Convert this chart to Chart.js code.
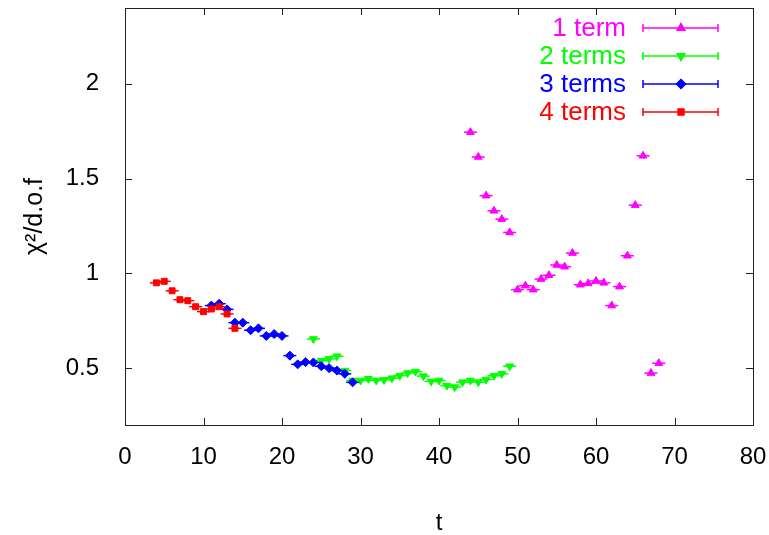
<!DOCTYPE html>
<html>
<head>
<meta charset="utf-8">
<script src="https://cdn.jsdelivr.net/npm/chart.js@4.4.1/dist/chart.umd.min.js"></script>
<style>
  html, body { margin: 0; padding: 0; background: #fff; }
  #wrap { width: 769px; height: 535px; }
</style>
</head>
<body>
<div id="wrap"><canvas id="chart" width="769" height="535"></canvas></div>
<script>
// データ (t, χ²/d.o.f)
const t1 = [44, 45, 46, 47, 48, 49, 50, 51, 52, 53, 54, 55, 56, 57, 58, 59, 60, 61, 62, 63, 64, 65, 66, 67, 68];
const chi1 = [1.745, 1.614, 1.41, 1.33, 1.286, 1.216, 0.914, 0.935, 0.914, 0.97, 0.99, 1.044, 1.035, 1.107,
  0.94, 0.947, 0.96, 0.95, 0.83, 0.93, 1.093, 1.36, 1.62, 0.474, 0.526];

const t2 = [24, 25, 26, 27, 28, 29, 30, 31, 32, 33, 34, 35, 36, 37, 38, 39, 40, 41, 42, 43, 44, 45, 46, 47, 48, 49];
const chi2 = [0.654, 0.54, 0.549, 0.563, 0.487, 0.435, 0.435, 0.444, 0.435, 0.438, 0.447, 0.46, 0.474, 0.482,
  0.458, 0.43, 0.435, 0.408, 0.40, 0.426, 0.435, 0.426, 0.44, 0.46, 0.47, 0.51];

const t3 = [11, 12, 13, 14, 15, 16, 17, 18, 19, 20, 21, 22, 23, 24, 25, 26, 27, 28, 29];
const chi3 = [0.83, 0.84, 0.81, 0.74, 0.74, 0.70, 0.71, 0.67, 0.68, 0.67, 0.566, 0.52, 0.532, 0.53, 0.51,
  0.50, 0.487, 0.47, 0.425];

const t4 = [4, 5, 6, 7, 8, 9, 10, 11, 12, 13, 14];
const chi4 = [0.95, 0.958, 0.908, 0.861, 0.856, 0.824, 0.798, 0.812, 0.824, 0.786, 0.71];

const xTicks = [0, 10, 20, 30, 40, 50, 60, 70, 80];
const yTicks = [0.5, 1, 1.5, 2];

const FONT = "'Liberation Sans', Arial, sans-serif";

// 系列定義
const seriesList = [
  { label: "1 term",  t: t1, v: chi1, color: "#ff00ff", style: "triangle", rot: 0,   r: 4.5, order: 4 },
  { label: "2 terms", t: t2, v: chi2, color: "#00ff00", style: "triangle", rot: 180, r: 4.5, order: 3 },
  { label: "3 terms", t: t3, v: chi3, color: "#0000ff", style: "rectRot",  rot: 0,   r: 4.5, order: 2 },
  { label: "4 terms", t: t4, v: chi4, color: "#ff0000", style: "rect",     rot: 0,   r: 4.2, order: 1 }
];

const toPoints = (ts, vs) => ts.map((t, i) => ({ x: t, y: vs[i] }));

const datasets = [];
for (const s of seriesList) {
  // マーカー
  datasets.push({
    label: s.label,
    data: toPoints(s.t, s.v),
    pointStyle: s.style,
    rotation: s.rot,
    pointRadius: s.r,
    backgroundColor: s.color,
    borderColor: s.color,
    borderWidth: 1,
    order: s.order
  });
  // 横方向エラーバー
  datasets.push({
    label: s.label + " err",
    data: toPoints(s.t, s.v),
    pointStyle: "line",
    pointRadius: 6.5,
    borderColor: s.color,
    borderWidth: 1.5,
    order: s.order
  });
}

// 枠と内向きの目盛り
const framePlugin = {
  id: "frame",
  afterDraw(chart) {
    const { ctx, chartArea: a, scales } = chart;
    ctx.save();
    ctx.strokeStyle = "#222";
    ctx.lineWidth = 1;
    ctx.strokeRect(a.left + 0.5, a.top + 0.5, a.right - a.left, a.bottom - a.top);
    ctx.beginPath();
    const len = 7;
    for (const v of xTicks) {
      const px = Math.round(scales.x.getPixelForValue(v)) + 0.5;
      ctx.moveTo(px, a.bottom); ctx.lineTo(px, a.bottom - len);
      ctx.moveTo(px, a.top); ctx.lineTo(px, a.top + len);
    }
    for (const v of yTicks) {
      const py = Math.round(scales.y.getPixelForValue(v)) + 0.5;
      ctx.moveTo(a.left, py); ctx.lineTo(a.left + len, py);
      ctx.moveTo(a.right, py); ctx.lineTo(a.right - len, py);
    }
    ctx.stroke();
    ctx.restore();
  }
};

// gnuplot 風の凡例
const legendPlugin = {
  id: "gpLegend",
  afterDraw(chart) {
    const { ctx } = chart;
    const textRight = 626, x0 = 643, x1 = 718, xm = 681;
    ctx.save();
    ctx.font = "26px " + FONT;
    ctx.textAlign = "right";
    ctx.textBaseline = "middle";
    seriesList.forEach((s, i) => {
      const y = 28 + i * 28;
      ctx.fillStyle = s.color;
      ctx.fillText(s.label, textRight, y + 1);
      ctx.strokeStyle = s.color;
      ctx.lineWidth = 1.5;
      ctx.beginPath();
      ctx.moveTo(x0, y); ctx.lineTo(x1, y);
      ctx.moveTo(x0, y - 4); ctx.lineTo(x0, y + 4);
      ctx.moveTo(x1, y - 4); ctx.lineTo(x1, y + 4);
      ctx.stroke();
      Chart.helpers.drawPoint(ctx, {
        pointStyle: s.style, rotation: s.rot, radius: s.r, borderWidth: 1
      }, xm, y);
      ctx.fillStyle = s.color;
      ctx.fill();
    });
    ctx.restore();
  }
};

const ctx = document.getElementById("chart").getContext("2d");
new Chart(ctx, {
  type: "scatter",
  data: { datasets },
  plugins: [framePlugin, legendPlugin],
  options: {
    responsive: false,
    animation: false,
    layout: { padding: { top: 8, right: 16, left: 0, bottom: 0 } },
    plugins: { legend: { display: false }, tooltip: { enabled: false } },
    scales: {
      x: {
        type: "linear",
        min: 0,
        max: 80,
        afterBuildTicks: sc => { sc.ticks = xTicks.map(v => ({ value: v })); },
        afterFit: sc => { sc.height = 110; sc.paddingLeft = 0; sc.paddingRight = 0; },
        grid: { display: false },
        border: { display: false },
        ticks: { color: "#000", font: { family: FONT, size: 24 }, padding: 10, maxRotation: 0 },
        title: { display: true, text: "t", color: "#000", font: { family: FONT, size: 24, lineHeight: 1 }, padding: 0 }
      },
      y: {
        type: "linear",
        min: 0.2,
        max: 2.4,
        afterBuildTicks: sc => { sc.ticks = yTicks.map(v => ({ value: v })); },
        afterFit: sc => { sc.width = 125; sc.paddingTop = 0; sc.paddingBottom = 0; },
        grid: { display: false },
        border: { display: false },
        ticks: { color: "#000", font: { family: FONT, size: 24 }, padding: 18, callback: v => String(v) },
        title: { display: true, text: "χ²/d.o.f", color: "#000", font: { family: FONT, size: 25 }, padding: { top: 20, bottom: 0 } }
      }
    }
  }
});
</script>
</body>
</html>
